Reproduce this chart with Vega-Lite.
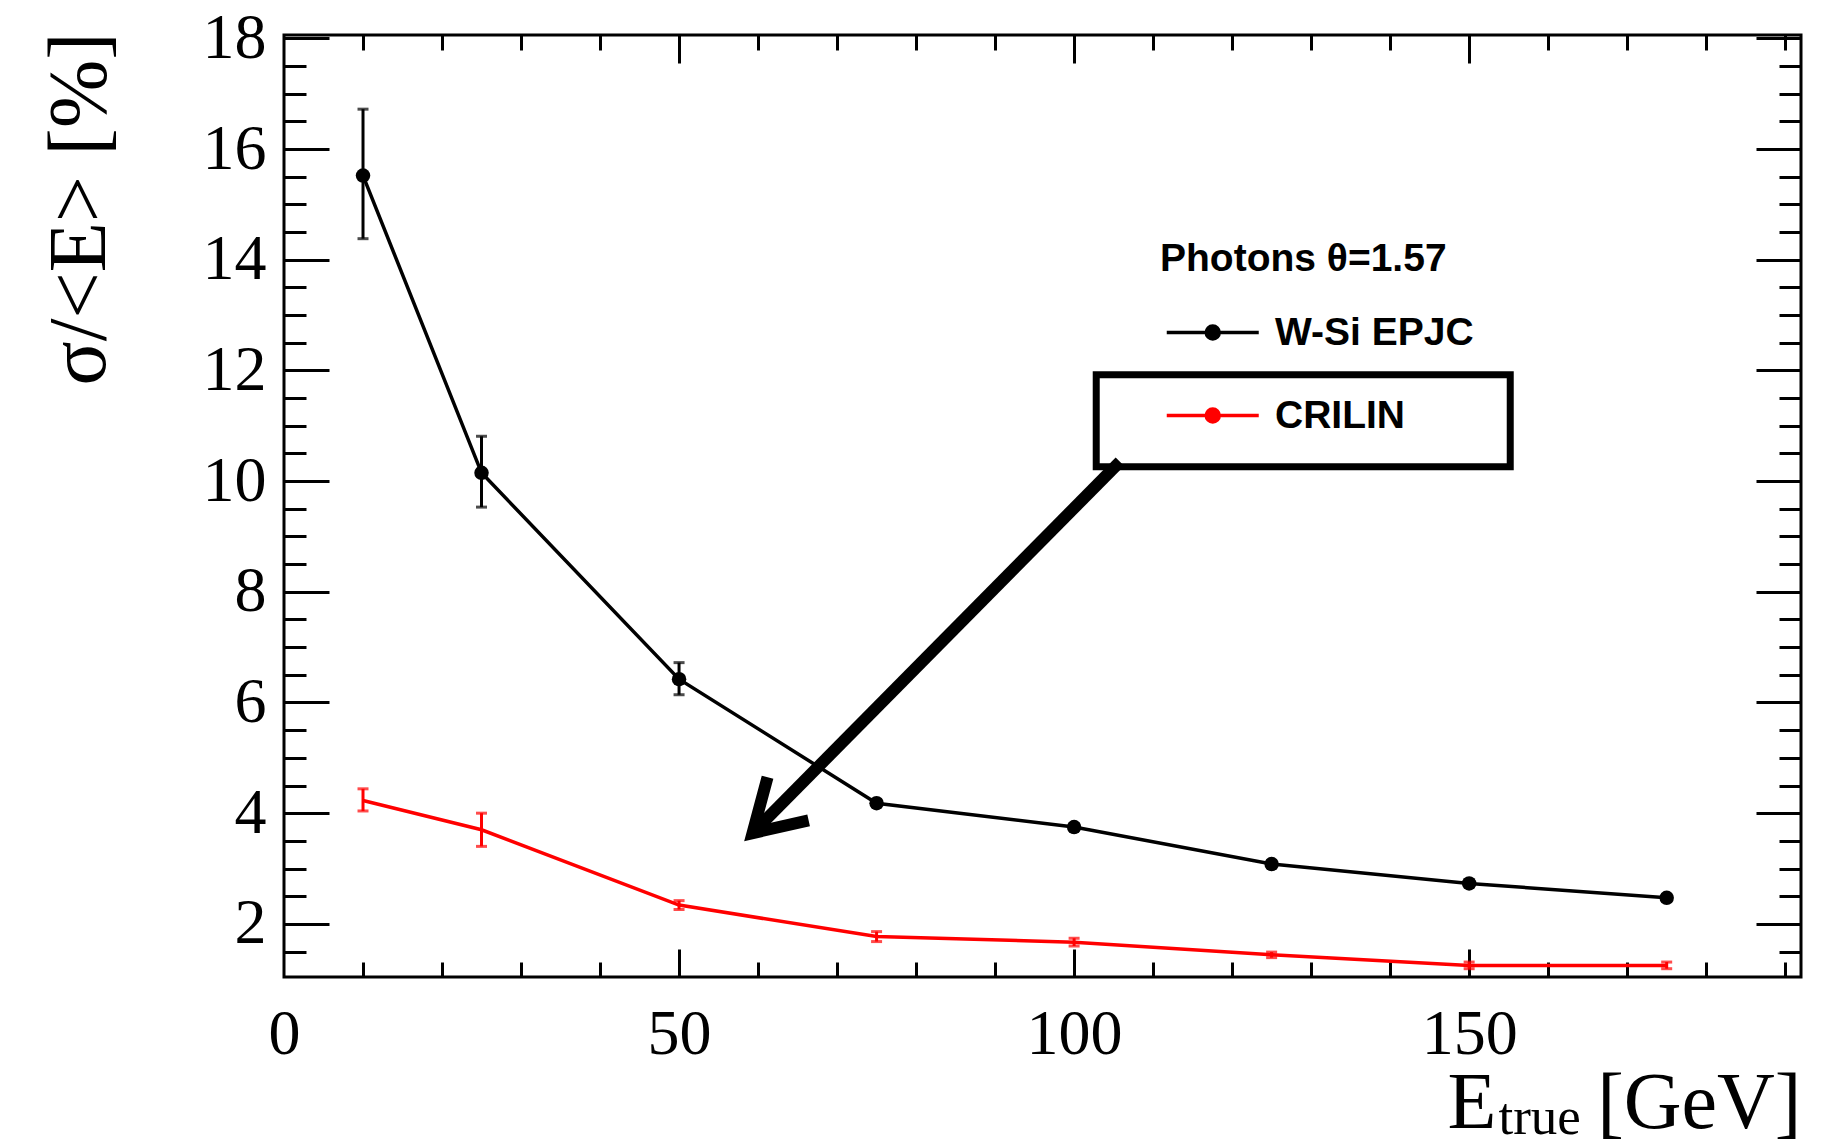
{
  "$schema": "https://vega.github.io/schema/vega-lite/v6.json",
  "width": 1517,
  "height": 942,
  "autosize": "none",
  "padding": {"left": 284, "top": 35, "right": 33, "bottom": 168},
  "background": "white",
  "datasets": {
    "res": [
      {"det": "W-Si EPJC", "E": 10, "res": 15.52, "lo": 14.38, "hi": 16.72},
      {"det": "W-Si EPJC", "E": 25, "res": 10.15, "lo": 9.53, "hi": 10.81},
      {"det": "W-Si EPJC", "E": 50, "res": 6.42, "lo": 6.14, "hi": 6.72},
      {"det": "W-Si EPJC", "E": 75, "res": 4.18, "lo": 4.12, "hi": 4.24},
      {"det": "W-Si EPJC", "E": 100, "res": 3.75, "lo": 3.69, "hi": 3.81},
      {"det": "W-Si EPJC", "E": 125, "res": 3.08, "lo": 3.02, "hi": 3.14},
      {"det": "W-Si EPJC", "E": 150, "res": 2.73, "lo": 2.67, "hi": 2.79},
      {"det": "W-Si EPJC", "E": 175, "res": 2.47, "lo": 2.41, "hi": 2.53},
      {"det": "CRILIN", "E": 10, "res": 4.23, "lo": 4.04, "hi": 4.44},
      {"det": "CRILIN", "E": 25, "res": 3.7, "lo": 3.4, "hi": 4.0},
      {"det": "CRILIN", "E": 50, "res": 2.34, "lo": 2.26, "hi": 2.42},
      {"det": "CRILIN", "E": 75, "res": 1.77, "lo": 1.68, "hi": 1.86},
      {"det": "CRILIN", "E": 100, "res": 1.67, "lo": 1.6, "hi": 1.74},
      {"det": "CRILIN", "E": 125, "res": 1.44, "lo": 1.39, "hi": 1.49},
      {"det": "CRILIN", "E": 150, "res": 1.25, "lo": 1.19, "hi": 1.31},
      {"det": "CRILIN", "E": 175, "res": 1.25, "lo": 1.19, "hi": 1.31}
    ],
    "box": [{"x0": 102.8, "x1": 155.2, "y0": 11.92, "y1": 10.26}],
    "shaft": [{"x0": 105.8, "y0": 10.35, "x1": 59.3, "y1": 3.64}],
    "head": [
      {"k": 0, "x": 61.2, "y": 4.65},
      {"k": 1, "x": 59.3, "y": 3.64},
      {"k": 2, "x": 66.4, "y": 3.87}
    ]
  },
  "layer": [
    {
      "data": {"name": "res"},
      "mark": {"type": "rule", "strokeWidth": 3},
      "encoding": {
        "x": {"field": "E", "type": "quantitative",
          "scale": {"domain": [0, 192], "nice": false, "zero": false},
          "axis": {"orient": "bottom", "values": [0, 50, 100, 150], "ticks": false, "labelPadding": 25,
            "title": "E", "titleFontSize": 80, "titleX": 1163, "titleY": 150, "titleAlign": "left",
            "titleBaseline": "alphabetic", "titleAngle": 0}},
        "y": {"field": "lo", "type": "quantitative",
          "scale": {"domain": [1.04, 18.06], "nice": false, "zero": false},
          "axis": {"orient": "left", "values": [2, 4, 6, 8, 10, 12, 14, 16, 18], "ticks": false, "labelPadding": 18,
            "title": "σ/<E> [%]", "titleFontSize": 82, "titleAngle": 270, "titleX": -180, "titleY": -3,
            "titleAlign": "right", "titleBaseline": "alphabetic"}},
        "y2": {"field": "hi"},
        "color": {"field": "det", "type": "nominal",
          "scale": {"domain": ["W-Si EPJC", "CRILIN"], "range": ["#000000", "#ff0000"]},
          "legend": {
            "orient": "none", "legendX": 876, "legendY": 205, "padding": 0,
            "title": "Photons θ=1.57", "titleFont": "Liberation Sans", "titleFontSize": 39,
            "titleFontWeight": "bold", "titleColor": "black", "titlePadding": 23, "titleLimit": 600,
            "labelFont": "Liberation Sans", "labelFontSize": 39, "labelFontWeight": "bold",
            "labelColor": "black", "labelOffset": 54, "labelLimit": 600,
            "symbolType": "M-0.826,0L2.374,0M0.548,0A0.226,0.226,0,1,1,1,0A0.226,0.226,0,1,1,0.548,0Z",
            "symbolSize": 3306, "symbolStrokeWidth": 3.5, "rowPadding": 32,
            "encode": {"symbols": {"update": {"fill": {"scale": "color", "field": "value"}, "fillOpacity": {"value": 1}}}}
          }}
      }
    },
    {
      "data": {"name": "res"},
      "transform": [{"fold": ["lo", "hi"], "as": ["end", "val"]}],
      "mark": {"type": "tick", "orient": "horizontal", "thickness": 3, "size": 11},
      "encoding": {
        "x": {"field": "E", "type": "quantitative",
          "scale": {"domain": [0, 192], "nice": false, "zero": false},
          "axis": {"orient": "bottom", "values": [50, 100, 150], "tickSize": -28, "labels": false,
            "title": "true", "titleFontSize": 53, "titleX": 1214, "titleY": 156, "titleAlign": "left",
            "titleBaseline": "alphabetic", "titleAngle": 0}},
        "y": {"field": "val", "type": "quantitative",
          "scale": {"domain": [1.04, 18.06], "nice": false, "zero": false},
          "axis": {"orient": "left", "values": [2, 4, 6, 8, 10, 12, 14, 16, 18], "tickSize": -45, "labels": false, "title": null}},
        "color": {"field": "det", "type": "nominal",
          "scale": {"domain": ["W-Si EPJC", "CRILIN"], "range": ["#000000", "#ff0000"]},
          "legend": {
            "orient": "none", "legendX": 876, "legendY": 205, "padding": 0,
            "title": "Photons θ=1.57", "titleFont": "Liberation Sans", "titleFontSize": 39,
            "titleFontWeight": "bold", "titleColor": "black", "titlePadding": 23, "titleLimit": 600,
            "labelFont": "Liberation Sans", "labelFontSize": 39, "labelFontWeight": "bold",
            "labelColor": "black", "labelOffset": 54, "labelLimit": 600,
            "symbolType": "M-0.826,0L2.374,0M0.548,0A0.226,0.226,0,1,1,1,0A0.226,0.226,0,1,1,0.548,0Z",
            "symbolSize": 3306, "symbolStrokeWidth": 3.5, "rowPadding": 32,
            "encode": {"symbols": {"update": {"fill": {"scale": "color", "field": "value"}, "fillOpacity": {"value": 1}}}}
          }}
      }
    },
    {
      "data": {"name": "res"},
      "mark": {"type": "line", "strokeWidth": 3.5},
      "encoding": {
        "x": {"field": "E", "type": "quantitative",
          "scale": {"domain": [0, 192], "nice": false, "zero": false},
          "axis": {"orient": "bottom", "values": [10, 20, 30, 40, 60, 70, 80, 90, 110, 120, 130, 140, 160, 170, 180, 190],
            "tickSize": -15, "labels": false,
            "title": "[GeV]", "titleFontSize": 80, "titleX": 1517, "titleY": 150, "titleAlign": "right",
            "titleBaseline": "alphabetic", "titleAngle": 0}},
        "y": {"field": "res", "type": "quantitative",
          "scale": {"domain": [1.04, 18.06], "nice": false, "zero": false},
          "axis": {"orient": "left",
            "values": [1.5, 2.5, 3, 3.5, 4.5, 5, 5.5, 6.5, 7, 7.5, 8.5, 9, 9.5, 10.5, 11, 11.5, 12.5, 13, 13.5, 14.5, 15, 15.5, 16.5, 17, 17.5],
            "tickSize": -22, "labels": false, "title": null}},
        "color": {"field": "det", "type": "nominal",
          "scale": {"domain": ["W-Si EPJC", "CRILIN"], "range": ["#000000", "#ff0000"]},
          "legend": {
            "orient": "none", "legendX": 876, "legendY": 205, "padding": 0,
            "title": "Photons θ=1.57", "titleFont": "Liberation Sans", "titleFontSize": 39,
            "titleFontWeight": "bold", "titleColor": "black", "titlePadding": 23, "titleLimit": 600,
            "labelFont": "Liberation Sans", "labelFontSize": 39, "labelFontWeight": "bold",
            "labelColor": "black", "labelOffset": 54, "labelLimit": 600,
            "symbolType": "M-0.826,0L2.374,0M0.548,0A0.226,0.226,0,1,1,1,0A0.226,0.226,0,1,1,0.548,0Z",
            "symbolSize": 3306, "symbolStrokeWidth": 3.5, "rowPadding": 32,
            "encode": {"symbols": {"update": {"fill": {"scale": "color", "field": "value"}, "fillOpacity": {"value": 1}}}}
          }}
      }
    },
    {
      "data": {"name": "res"},
      "transform": [{"filter": "datum.det === 'W-Si EPJC'"}],
      "mark": {"type": "point", "filled": true, "size": 210, "opacity": 1, "shape": "circle"},
      "encoding": {
        "x": {"field": "E", "type": "quantitative",
          "scale": {"domain": [0, 192], "nice": false, "zero": false},
          "axis": {"orient": "top", "values": [50, 100, 150], "tickSize": -28, "labels": false, "title": null}},
        "y": {"field": "res", "type": "quantitative",
          "scale": {"domain": [1.04, 18.06], "nice": false, "zero": false},
          "axis": {"orient": "right", "values": [2, 4, 6, 8, 10, 12, 14, 16, 18], "tickSize": -45, "labels": false, "title": null}},
        "color": {"field": "det", "type": "nominal",
          "scale": {"domain": ["W-Si EPJC", "CRILIN"], "range": ["#000000", "#ff0000"]},
          "legend": {
            "orient": "none", "legendX": 876, "legendY": 205, "padding": 0,
            "title": "Photons θ=1.57", "titleFont": "Liberation Sans", "titleFontSize": 39,
            "titleFontWeight": "bold", "titleColor": "black", "titlePadding": 23, "titleLimit": 600,
            "labelFont": "Liberation Sans", "labelFontSize": 39, "labelFontWeight": "bold",
            "labelColor": "black", "labelOffset": 54, "labelLimit": 600,
            "symbolType": "M-0.826,0L2.374,0M0.548,0A0.226,0.226,0,1,1,1,0A0.226,0.226,0,1,1,0.548,0Z",
            "symbolSize": 3306, "symbolStrokeWidth": 3.5, "rowPadding": 32,
            "encode": {"symbols": {"update": {"fill": {"scale": "color", "field": "value"}, "fillOpacity": {"value": 1}}}}
          }}
      }
    },
    {
      "data": {"name": "box"},
      "mark": {"type": "rect", "fillOpacity": 0, "stroke": "black", "strokeWidth": 7},
      "encoding": {
        "x": {"field": "x0", "type": "quantitative",
          "scale": {"domain": [0, 192], "nice": false, "zero": false},
          "axis": {"orient": "top", "values": [10, 20, 30, 40, 60, 70, 80, 90, 110, 120, 130, 140, 160, 170, 180, 190],
            "tickSize": -15, "labels": false, "title": null}},
        "x2": {"field": "x1"},
        "y": {"field": "y0", "type": "quantitative",
          "scale": {"domain": [1.04, 18.06], "nice": false, "zero": false},
          "axis": {"orient": "right",
            "values": [1.5, 2.5, 3, 3.5, 4.5, 5, 5.5, 6.5, 7, 7.5, 8.5, 9, 9.5, 10.5, 11, 11.5, 12.5, 13, 13.5, 14.5, 15, 15.5, 16.5, 17, 17.5],
            "tickSize": -22, "labels": false, "title": null}},
        "y2": {"field": "y1"}
      }
    },
    {
      "data": {"name": "shaft"},
      "mark": {"type": "rule", "strokeWidth": 12, "color": "black", "strokeCap": "butt"},
      "encoding": {
        "x": {"field": "x0", "type": "quantitative", "scale": {"domain": [0, 192], "nice": false, "zero": false}, "axis": null},
        "x2": {"field": "x1"},
        "y": {"field": "y0", "type": "quantitative", "scale": {"domain": [1.04, 18.06], "nice": false, "zero": false}, "axis": null},
        "y2": {"field": "y1"}
      }
    },
    {
      "data": {"name": "head"},
      "mark": {"type": "line", "strokeWidth": 12, "color": "black", "strokeJoin": "miter", "strokeCap": "butt"},
      "encoding": {
        "x": {"field": "x", "type": "quantitative", "scale": {"domain": [0, 192], "nice": false, "zero": false}, "axis": null},
        "y": {"field": "y", "type": "quantitative", "scale": {"domain": [1.04, 18.06], "nice": false, "zero": false}, "axis": null},
        "order": {"field": "k", "type": "quantitative"}
      }
    }
  ],
  "resolve": {"axis": {"x": "independent", "y": "independent"}},
  "config": {
    "view": {"stroke": "black", "strokeWidth": 3},
    "axis": {
      "grid": false, "domain": false, "tickColor": "black", "tickWidth": 3,
      "labelColor": "black", "titleColor": "black",
      "labelFont": "Liberation Serif", "titleFont": "Liberation Serif", "titleFontWeight": "normal",
      "labelFontSize": 64, "labelFlush": false, "labelOverlap": false
    }
  }
}
